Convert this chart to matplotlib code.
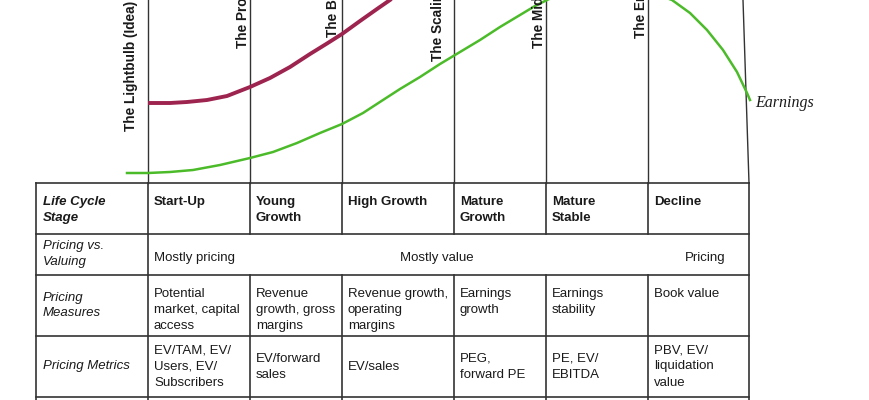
import matplotlib
matplotlib.use("Agg")
import matplotlib.pyplot as plt

# life-cycle curves (x = pixel column, y = pixel row, 0 at top)
rev_x = [148, 170, 187, 207, 227, 250, 270, 290, 310, 327, 342, 360, 377, 390, 400]
rev_y = [103, 103, 102, 100, 96, 87, 78, 67, 54, 43.5, 34, 21, 9, 0, -7]
earn_x = [127, 148, 170, 193, 220, 250, 273, 297, 320, 342, 363, 383, 400, 420,
          440, 460, 480, 500, 520, 535, 547, 560, 585, 610, 635, 655, 672, 690,
          707, 723, 737, 747, 750]
earn_y = [173, 173, 172, 170, 165, 158, 152, 143, 133, 124, 113, 100, 89, 77,
          64, 52, 40, 27, 15, 6, 0, -6, -12, -14, -12, -6, 0, 13, 30, 50, 72,
          93, 100]

stage_events = ["The Lightbulb (Idea)", "The Product Test", "The Bar Mitzvah Moment",
                "The Scaling Up Test", "The Mid-life Crisis", "The End Game"]
row_labels = ["Life Cycle\nStage", "Pricing vs.\nValuing", "Pricing\nMeasures",
              "Pricing Metrics"]
stages = ["Start-Up", "Young\nGrowth", "High Growth", "Mature\nGrowth",
          "Mature\nStable", "Decline"]
measures = ["Potential\nmarket, capital\naccess", "Revenue\ngrowth, gross\nmargins",
            "Revenue growth,\noperating\nmargins", "Earnings\ngrowth",
            "Earnings\nstability", "Book value"]
metrics = ["EV/TAM, EV/\nUsers, EV/\nSubscribers", "EV/forward\nsales", "EV/sales",
           "PEG,\nforward PE", "PE, EV/\nEBITDA", "PBV, EV/\nliquidation\nvalue"]
pricing_vs_value = ["Mostly pricing", "Mostly value", "Pricing"]

# layout (pixels)
col_x = [36, 148, 250, 342, 454, 546, 648, 749]
row_y = [183, 234, 275, 336, 397]
label_dx = [13, 3, 5, 12, 3, 3]
label_bottom = [131, 48, 37, 61, 48, 38]
LINE = 16
FS = 9.5
ink = "#1a1a1a"
grid = "#333333"
font = "Liberation Sans"

fig = plt.figure(figsize=(8.7, 4), dpi=100)
ax = fig.add_axes([0, 0, 1, 1])
ax.set_xlim(0, 870)
ax.set_ylim(400, 0)
ax.axis("off")


def put(x, y, s, va="top", weight="normal", style="normal"):
    lines = s.split("\n")
    if va == "center":
        y = y - (len(lines) - 1) * LINE / 2
    for i, ln in enumerate(lines):
        ax.text(x, y + i * LINE, ln, va="center", ha="left", fontsize=FS,
                family=font, color=ink, fontweight=weight, fontstyle=style)


# vertical stage lines above the table (the last one leans slightly)
for x in col_x[1:-1]:
    ax.plot([x, x], [0, row_y[0]], color=grid, lw=1.0)
ax.plot([col_x[-1] - 6, col_x[-1]], [0, row_y[0]], color=grid, lw=1.0)

# curves
ax.plot(rev_x, rev_y, color="#9e2450", lw=2.8, solid_capstyle="butt",
        solid_joinstyle="round")
ax.plot(earn_x, earn_y, color="#4cbb2a", lw=1.8, solid_joinstyle="round")
ax.text(755, 103, "Earnings", family="Liberation Serif", style="italic",
        fontsize=11.5, va="center", ha="left", color=ink)

# rotated event labels
for i, lab in enumerate(stage_events):
    ax.text(col_x[i + 1] - label_dx[i], label_bottom[i], lab, rotation=90,
            rotation_mode="anchor", ha="left", va="baseline", fontsize=9.8,
            fontweight="bold", family=font, color=ink)

# table grid
for y in row_y:
    ax.plot([col_x[0], col_x[-1]], [y, y], color=grid, lw=1.2)
for x in [col_x[0], col_x[1], col_x[-1]]:
    ax.plot([x, x], [row_y[0], 400], color=grid, lw=1.2)
for x in col_x[2:-1]:
    ax.plot([x, x], [row_y[0], row_y[1]], color=grid, lw=1.2)
    ax.plot([x, x], [row_y[2], 400], color=grid, lw=1.2)

# row labels
put(col_x[0] + 7, row_y[0] + 19, row_labels[0], weight="bold", style="italic")
for r in range(1, 4):
    put(col_x[0] + 7, (row_y[r] + row_y[r + 1]) / 2, row_labels[r], va="center",
        style="italic")

# cells
for c in range(6):
    put(col_x[c + 1] + 6, row_y[0] + 19, stages[c], weight="bold")
    put(col_x[c + 1] + 6, row_y[2] + 19, measures[c])
    put(col_x[c + 1] + 6, (row_y[3] + row_y[4]) / 2, metrics[c], va="center")

mid = row_y[1] + 24
ax.text(col_x[1] + 6, mid, pricing_vs_value[0], va="center", ha="left",
        fontsize=FS, family=font, color=ink)
ax.text(400, mid, pricing_vs_value[1], va="center", ha="left",
        fontsize=FS, family=font, color=ink)
ax.text(col_x[-1] - 23, mid, pricing_vs_value[2], va="center", ha="right",
        fontsize=FS, family=font, color=ink)

fig.savefig("out.png", dpi=100)
